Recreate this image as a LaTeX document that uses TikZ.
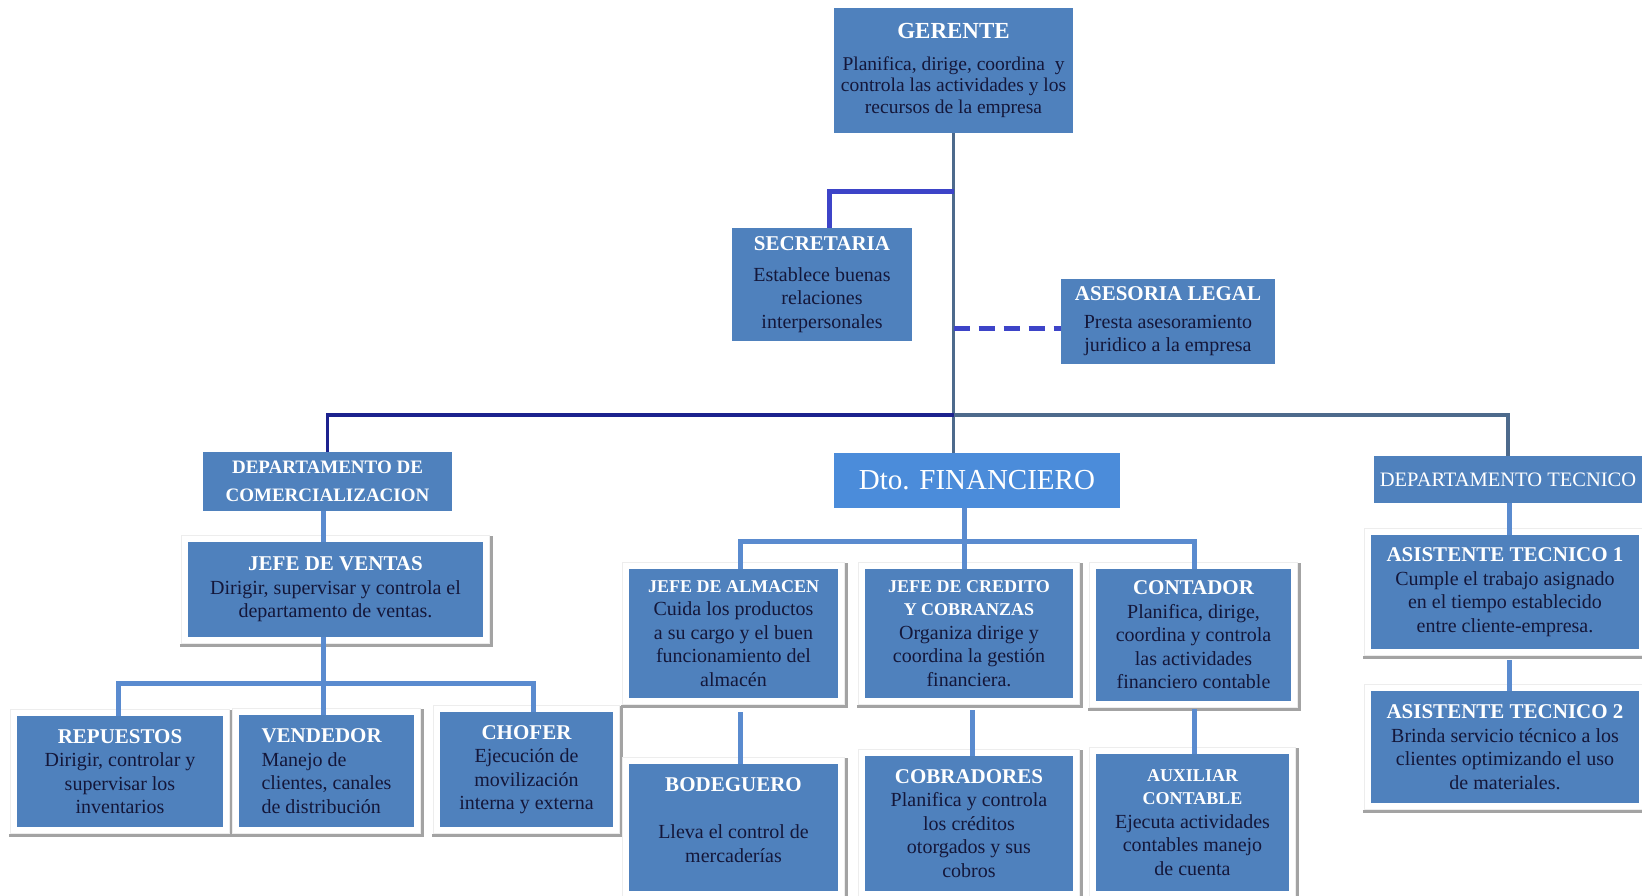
\documentclass[tikz,border=0pt]{standalone}
\usepackage{fontspec}
\setmainfont{Liberation Serif}
\usetikzlibrary{calc}

\definecolor{boxblue}{HTML}{4F81BD}
\definecolor{finblue}{HTML}{4B8CDA}
\definecolor{inktext}{HTML}{14173A}
\definecolor{linkblue}{HTML}{5A8BCF}
\definecolor{trunkgray}{HTML}{4D6A8C}
\definecolor{navyline}{HTML}{1C228E}
\definecolor{secblue}{HTML}{3D44C8}
\definecolor{framegray}{HTML}{A3A3A3}
\definecolor{framelight}{HTML}{EDEDED}

% bold white heading line, optional size
\newcommand\ttl[1][21]{\fontsize{#1}{23}\selectfont\bfseries\color{white}}

\tikzset{
  orgbox/.style={fill=boxblue, inner sep=0pt, align=center, text=inktext,
                 font=\fontsize{20}{23.5}\selectfont},
  link/.style={draw=linkblue, line width=5pt},
  trunk/.style={draw=trunkgray, line width=3.5pt},
  navybar/.style={draw=navyline, line width=3.5pt},
  secline/.style={draw=secblue, line width=5pt},
  dashlink/.style={draw=secblue, line width=5pt, dash pattern=on 16pt off 9pt},
  shadeline/.style={draw=framegray, line width=3pt},
  faintline/.style={draw=framelight, line width=1pt},
}

\begin{document}
\begin{tikzpicture}[x=1pt,y=-1pt]
\useasboundingbox (0,0) rectangle (1642,895);

% ---- top management ----
\node[orgbox, minimum width=239pt, minimum height=125pt, font=\fontsize{19.5}{21.5}\selectfont]
  (ger) at (953.5,70.5)
  {{\ttl[23] GERENTE}\\[10pt]Planifica, dirige, coordina\ \ y\\controla las actividades y los\\recursos de la empresa};
\node[orgbox, minimum width=180pt, minimum height=113pt] (sec) at (822,284.5)
  {{\ttl SECRETARIA}\\[7pt]Establece buenas\\relaciones\\interpersonales};
\node[orgbox, minimum width=214pt, minimum height=85pt] (ases) at (1168,321.5)
  {{\ttl ASESORIA LEGAL}\\[4pt]Presta asesoramiento\\juridico a la empresa};

% ---- departments ----
\node[orgbox, minimum width=249pt, minimum height=59pt] (dcom) at (327.5,481.5)
  {{\ttl[19] DEPARTAMENTO DE}\\[5pt]{\ttl[19] COMERCIALIZACION}};
\node[orgbox, fill=finblue, minimum width=286pt, minimum height=55pt] (dfin) at (977,480.5)
  {{\color{white}\fontsize{29}{32}\selectfont Dto. FINANCIERO}};
\node[orgbox, minimum width=268pt, minimum height=47pt] (dtec) at (1508,479.5)
  {{\color{white}\fontsize{20.5}{23}\selectfont DEPARTAMENTO TECNICO}};

% ---- commercial branch ----
\node[orgbox, minimum width=295pt, minimum height=95pt] (jven) at (335.5,589.5)
  {{\ttl JEFE DE VENTAS}\\Dirigir, supervisar y controla el\\departamento de ventas.};
\node[orgbox, minimum width=206pt, minimum height=111pt] (rep) at (120,771.5)
  {{\ttl REPUESTOS}\\Dirigir, controlar y\\supervisar los\\inventarios};
\node[orgbox, align=left, minimum width=175pt, minimum height=112pt] (ven) at (326.5,771)
  {{\ttl VENDEDOR}\\Manejo de\\clientes, canales\\de distribución};
\node[orgbox, minimum width=173pt, minimum height=115pt] (cho) at (526.5,769.5)
  {{\ttl CHOFER}\\Ejecución de\\movilización\\interna y externa};

% ---- financial branch ----
\node[orgbox, minimum width=209pt, minimum height=129pt] (jalm) at (733.5,633.5)
  {{\ttl[18] JEFE DE ALMACEN}\\Cuida los productos\\a su cargo y el buen\\funcionamiento del\\almacén};
\node[orgbox, minimum width=208pt, minimum height=129pt] (jcre) at (969,633.5)
  {{\ttl[18] JEFE DE CREDITO}\\{\ttl[18] Y COBRANZAS}\\Organiza dirige y\\coordina la gestión\\financiera.};
\node[orgbox, minimum width=195pt, minimum height=132pt] (cont) at (1193.5,635)
  {{\ttl CONTADOR}\\Planifica, dirige,\\coordina y controla\\las actividades\\financiero contable};
\node[orgbox, minimum width=209pt, minimum height=127pt] (bod) at (733.5,827.5)
  {{\ttl BODEGUERO}\\[24pt]Lleva el control de\\mercaderías\\[-8pt]\mbox{}};
\node[orgbox, minimum width=208pt, minimum height=135pt] (cob) at (969,823.5)
  {{\ttl COBRADORES}\\Planifica y controla\\los créditos\\otorgados y sus\\cobros};
\node[orgbox, minimum width=193pt, minimum height=137pt] (aux) at (1192.5,822.5)
  {{\ttl[18] AUXILIAR}\\{\ttl[18] CONTABLE}\\Ejecuta actividades\\contables manejo\\de cuenta};

% ---- technical branch ----
\node[orgbox, minimum width=268pt, minimum height=114pt] (at1) at (1505,592)
  {{\ttl ASISTENTE TECNICO 1}\\Cumple el trabajo asignado\\en el tiempo establecido\\entre cliente-empresa.};
\node[orgbox, minimum width=268pt, minimum height=112pt] (at2) at (1505,747)
  {{\ttl ASISTENTE TECNICO 2}\\Brinda servicio técnico a los\\clientes optimizando el uso\\de materiales.};

% ---- frames with a grey lower-right edge ----
\foreach \n in {jven,rep,ven,cho,jalm,jcre,cont,bod,cob,aux,at1,at2}{
  \draw[faintline] ([xshift=-6pt,yshift=6pt]\n.north west) rectangle ([xshift=6pt,yshift=-6pt]\n.south east);
  \draw[shadeline] ([xshift=-8pt,yshift=-8pt]\n.south west) -- ([xshift=8pt,yshift=-8pt]\n.south east)
                   -- ([xshift=8pt,yshift=6pt]\n.north east);
}

% ---- guide coordinates ----
\coordinate (secj) at (829,191);
\coordinate (asy)  at (0,328);
\coordinate (bar)  at (0,415);
\coordinate (cx)   at (323,0);
\coordinate (vb)   at (323,683);
\coordinate (rx)   at (118,0);
\coordinate (chx)  at (533,0);
\coordinate (fb)   at (964,541);
\coordinate (ax)   at (740,0);
\coordinate (crx)  at (972,0);
\coordinate (ktx)  at (1194,0);
\coordinate (tx)   at (1509,0);

% ---- connectors from the manager ----
\draw[trunk] (ger.south) -- (ger.south |- dfin.north);
\draw[secline] (ger.south |- secj) -- (secj) -- (secj |- sec.north);
\draw[dashlink] (ger.south |- asy) -- (ases.west |- asy);
\draw[navybar] (ger.south |- bar) -| (dcom.north);
\draw[trunk] (ger.south |- bar) -| (dtec.north);

% ---- commercial connectors ----
\draw[link] (cx |- dcom.south) -- (cx |- jven.north);
\draw[link] (cx |- jven.south) -- (vb);
\draw[link] (rx |- rep.north) -- (rx |- vb) -- (chx |- vb) -- (chx |- cho.north);
\draw[link] (vb) -- (cx |- ven.north);

% ---- financial connectors ----
\draw[link] (fb |- dfin.south) -- (fb);
\draw[link] (ax |- jalm.north) -- (ax |- fb) -- (ktx |- fb) -- (ktx |- cont.north);
\draw[link] (fb) -- (fb |- jcre.north);
\draw[link] ($(ax |- jalm.south)+(0,14)$) -- (ax |- bod.north);
\draw[link] ($(crx |- jcre.south)+(0,12)$) -- (crx |- cob.north);
\draw[link] ($(ktx |- cont.south)+(0,8)$) -- (ktx |- aux.north);

% ---- technical connectors ----
\draw[link] (tx |- dtec.south) -- (tx |- at1.north);
\draw[link] ($(tx |- at1.south)+(0,11)$) -- (tx |- at2.north);
\end{tikzpicture}
\end{document}
